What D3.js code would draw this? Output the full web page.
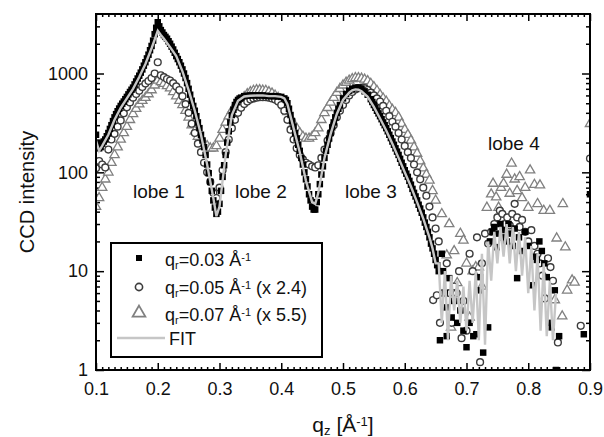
<!DOCTYPE html>
<html>
<head>
<meta charset="utf-8">
<script src="https://cdn.jsdelivr.net/npm/d3@7"></script>
<style>
  body { margin: 0; background: #fff; }
  text { font-family: "Liberation Sans", Arial, sans-serif; fill: #111; }
</style>
</head>
<body>
<div id="container"></div>
<script>
//------------------DATA------------------//
// q_r = 0.03 A^-1 (black squares) [qz, intensity]
const sq03 = [
  [0.100,240],[0.105,175],[0.110,195],[0.115,215],[0.120,250],[0.125,300],[0.130,360],[0.135,415],
  [0.140,470],[0.145,520],[0.150,580],[0.155,650],[0.160,720],[0.165,830],[0.170,950],[0.175,1100],
  [0.180,1300],[0.185,1550],[0.190,1900],[0.195,2500],[0.200,3300],[0.205,2750],[0.210,2450],[0.215,2250],
  [0.220,2000],[0.225,1750],[0.230,1500],[0.235,1300],[0.240,1100],[0.245,900],[0.250,700],[0.255,530],
  [0.260,420],[0.265,320],[0.270,240],[0.275,180],[0.280,120],[0.285,80],[0.290,52],[0.295,38],
  [0.300,48],[0.305,90],[0.310,150],[0.315,260],[0.320,380],[0.325,480],[0.330,540],[0.335,570],
  [0.340,590],[0.345,595],[0.350,600],[0.355,600],[0.360,600],[0.365,600],[0.370,600],[0.375,595],
  [0.380,590],[0.385,590],[0.390,590],[0.395,585],[0.400,580],[0.405,560],[0.410,500],[0.415,380],
  [0.420,290],[0.425,220],[0.430,165],[0.435,120],[0.440,85],[0.445,60],[0.450,45],[0.455,42],
  [0.460,60],[0.465,95],[0.470,140],[0.475,190],[0.480,250],[0.485,320],[0.490,400],[0.495,480],
  [0.500,560],[0.505,620],[0.510,670],[0.515,700],[0.520,720],[0.525,720],[0.530,700],[0.535,660],
  [0.540,610],[0.545,550],[0.550,480],[0.555,420],[0.560,370],[0.565,320],[0.570,280],[0.575,240],
  [0.580,205],[0.585,175],[0.590,150],[0.595,125],[0.600,105],[0.605,90],[0.610,75],[0.615,62],
  [0.620,52],[0.625,43],[0.630,35],[0.635,28],[0.640,22],[0.645,17],[0.650,13],[0.655,10],
  // finer sampling between the points above
  [0.1025,200],[0.1075,180],[0.1125,205],[0.1175,232],[0.1225,275],[0.1275,330],[0.1325,388],[0.1375,442],
  [0.1425,495],[0.1475,550],[0.1525,615],[0.1575,685],[0.1625,775],[0.1675,890],[0.1725,1020],[0.1775,1200],
  [0.1825,1420],[0.1875,1720],[0.1925,2150],[0.1975,2900],[0.2025,3000],
  [0.2075,2600],[0.2125,2350],[0.2175,2120],[0.2225,1870],[0.2275,1620],[0.2325,1400],[0.2375,1200],[0.2425,1000],
  [0.2475,800],[0.2525,610],[0.2575,470],[0.2625,370],[0.2675,280],[0.2725,210],[0.2775,150],[0.2825,98],
  [0.2875,65],[0.2925,44],[0.2975,40],[0.3025,65],[0.3075,118],[0.3125,200],[0.3175,320],[0.3225,430],
  [0.3275,515],[0.3325,558],
  [0.4075,540],[0.4125,440],[0.4175,330],[0.4225,250],[0.4275,190],[0.4325,140],[0.4375,100],[0.4425,72],
  [0.4475,52],[0.4525,42],[0.4575,50],[0.4625,76],[0.4675,115],[0.4725,165],[0.4775,220],[0.4825,285],
  [0.4875,360],[0.4925,440],
  [0.5475,515],[0.5525,450],[0.5575,395],[0.5625,345],[0.5675,300],[0.5725,260],[0.5775,222],[0.5825,190],
  [0.5875,162],[0.5925,137],[0.5975,115],[0.6025,97],[0.6075,82],[0.6125,68],[0.6175,57],[0.6225,47],
  [0.6275,39],[0.6325,31],[0.6375,25],[0.6425,19],[0.6475,15],[0.6525,11.5],
  // lobe 4 scatter
  [0.657,2],[0.660,15],[0.662,10],[0.665,6],[0.667,4.3],[0.668,2.2],[0.672,8.5],[0.676,3.4],
  [0.680,5],[0.685,3],[0.690,4],[0.695,2.5],[0.700,1.7],[0.705,3],[0.711,2.2],[0.716,2.3],
  [0.720,6.4],[0.722,8.7],[0.727,1.5],[0.735,2.7],[0.738,20],[0.742,25],[0.745,28],[0.749,17.5],
  [0.752,24],[0.755,30],[0.758,22],[0.762,26],[0.765,20],[0.768,30],[0.772,24],[0.775,18],
  [0.778,27],[0.782,8.5],[0.785,22],[0.790,16],[0.795,25],[0.800,18],[0.806,7.2],[0.810,14],
  [0.814,13],[0.818,20],[0.822,16],[0.826,12],[0.830,8.7],[0.834,3],[0.838,2.7],[0.843,6.4],
  [0.845,1],[0.850,2.2],[0.890,2.3],[0.900,60]
];

// q_r = 0.05 A^-1 (x 2.4) (open circles)
const ci05 = [
  [0.100,110],[0.105,130],[0.110,120],[0.115,112],[0.120,170],[0.125,215],[0.130,245],[0.135,290],
  [0.140,335],[0.145,395],[0.150,455],[0.155,510],[0.160,570],[0.165,620],[0.170,670],[0.175,730],
  [0.180,790],[0.185,840],[0.190,900],[0.195,1000],[0.200,1300],[0.205,960],[0.210,920],[0.215,880],
  [0.220,850],[0.225,800],[0.230,740],[0.235,680],[0.240,590],[0.245,490],[0.250,400],[0.255,310],
  [0.260,250],[0.265,195],[0.270,160],[0.275,125],[0.280,100],[0.285,80],[0.290,62],[0.295,55],
  [0.300,70],[0.305,105],[0.310,160],[0.315,215],[0.320,280],[0.325,340],[0.330,400],[0.335,450],
  [0.340,490],[0.345,520],[0.350,545],[0.355,560],[0.360,570],[0.365,575],[0.370,575],[0.375,575],
  [0.380,570],[0.385,560],[0.390,545],[0.395,520],[0.400,480],[0.405,420],[0.410,340],[0.415,270],
  [0.420,215],[0.425,175],[0.430,150],[0.435,135],[0.440,125],[0.445,120],[0.450,115],[0.455,112],
  [0.460,118],[0.465,140],[0.470,170],[0.475,210],[0.480,250],[0.485,300],[0.490,360],[0.495,420],
  [0.500,480],[0.505,540],[0.510,600],[0.515,650],[0.520,690],[0.525,710],[0.530,720],[0.535,710],
  [0.540,680],[0.545,640],[0.550,600],[0.555,560],[0.560,520],[0.565,470],[0.570,420],[0.575,370],
  [0.580,325],[0.585,290],[0.590,250],[0.595,215],[0.600,185],[0.605,160],[0.610,140],[0.615,120],
  [0.620,100],[0.625,85],[0.630,70],[0.635,58],[0.640,45],[0.645,35],[0.650,27],[0.655,20],
  [0.646,5.1],[0.652,5.7],[0.657,3],[0.662,6],[0.668,12],[0.672,6],[0.676,3],[0.680,7],
  [0.684,6],[0.688,10],[0.692,2.1],[0.695,5],[0.700,2.5],[0.705,15],[0.710,10],[0.717,22],
  [0.722,1.2],[0.725,12],[0.730,24],[0.735,19],[0.740,25],[0.745,30],[0.750,35],[0.754,41],
  [0.758,38],[0.762,30],[0.766,35],[0.770,29],[0.774,38],[0.778,48],[0.782,35],[0.786,28],
  [0.790,33],[0.795,25],[0.800,20],[0.805,26],[0.810,18],[0.815,15],[0.819,12],[0.823,9],
  [0.827,5.3],[0.832,13.5],[0.836,11],[0.840,8],[0.848,1.9],[0.885,2.8],[0.900,138]
];

// q_r = 0.07 A^-1 (x 5.5) (open triangles)
const tr07 = [
  [0.100,45],[0.105,55],[0.110,70],[0.115,85],[0.120,100],[0.125,125],[0.130,150],[0.135,180],
  [0.140,215],[0.145,250],[0.150,290],[0.155,340],[0.160,390],[0.165,440],[0.170,490],[0.175,530],
  [0.180,570],[0.185,620],[0.190,680],[0.195,760],[0.200,850],[0.205,820],[0.210,790],[0.215,750],
  [0.220,710],[0.225,650],[0.230,590],[0.235,530],[0.240,480],[0.245,420],[0.250,360],[0.255,300],
  [0.260,260],[0.265,230],[0.270,210],[0.275,195],[0.280,185],[0.285,175],[0.290,175],[0.295,185],
  [0.300,220],[0.305,270],[0.310,320],[0.315,370],[0.320,420],[0.325,460],[0.330,500],[0.335,540],
  [0.340,580],[0.345,620],[0.350,650],[0.355,670],[0.360,680],[0.365,680],[0.370,675],[0.375,670],
  [0.380,650],[0.385,630],[0.390,600],[0.395,570],[0.400,530],[0.405,470],[0.410,410],[0.415,360],
  [0.420,310],[0.425,280],[0.430,250],[0.435,230],[0.440,220],[0.445,220],[0.450,230],[0.455,250],
  [0.460,280],[0.465,340],[0.470,400],[0.475,450],[0.480,510],[0.485,570],[0.490,640],[0.495,700],
  [0.500,760],[0.505,810],[0.510,850],[0.515,880],[0.520,900],[0.525,900],[0.530,890],[0.535,870],
  [0.540,840],[0.545,790],[0.550,730],[0.555,670],[0.560,610],[0.565,560],[0.570,520],[0.575,470],
  [0.580,430],[0.585,400],[0.590,360],[0.595,310],[0.600,270],[0.605,240],[0.610,210],[0.615,180],
  [0.620,155],[0.625,130],[0.630,110],[0.635,95],[0.640,83],[0.645,65],[0.650,52],
  [0.660,38],[0.668,14.5],[0.672,30],[0.675,2.7],[0.680,16],[0.685,7.6],[0.690,24],[0.695,20.5],
  [0.700,12],[0.705,3.4],[0.710,10],[0.715,11],[0.720,11],[0.725,7],[0.733,44],[0.740,60],
  [0.743,77],[0.748,56],[0.752,44],[0.756,70],[0.760,77],[0.765,95],[0.770,61],[0.773,123],
  [0.778,85],[0.782,65],[0.786,90],[0.790,55],[0.795,70],[0.800,44],[0.803,105],[0.810,75],
  [0.815,48],[0.819,74],[0.825,41],[0.835,41],[0.843,5.1],[0.846,21.5],[0.855,3.5],[0.856,48],
  [0.860,17.5],[0.863,6.4],[0.871,8.1],[0.875,7.7],[0.900,310]
];

// fit curve
const fit = [
  [0.100,210],[0.105,165],[0.110,185],[0.120,240],[0.130,340],[0.140,450],[0.150,560],[0.160,700],
  [0.170,920],[0.180,1250],[0.190,1800],[0.195,2200],[0.200,2700],[0.205,2450],[0.210,2250],[0.220,1850],
  [0.230,1500],[0.240,1050],[0.250,680],[0.260,420],[0.270,240],[0.280,120],[0.290,55],[0.295,36],
  [0.300,45],[0.310,150],[0.320,380],[0.330,530],[0.340,585],[0.350,595],[0.360,600],[0.370,600],
  [0.380,590],[0.390,590],[0.400,580],[0.405,560],[0.410,490],[0.420,280],[0.430,160],[0.440,82],
  [0.450,50],[0.455,48],[0.460,62],[0.470,140],[0.480,245],[0.490,390],[0.500,540],[0.510,640],
  [0.515,675],[0.520,690],[0.525,685],[0.530,660],[0.540,580],[0.550,460],[0.560,350],[0.570,265],
  [0.580,195],[0.590,140],[0.600,100],[0.610,72],[0.620,50],[0.630,34],[0.640,22],[0.645,17],
  [0.650,12],[0.655,12],[0.660,3],[0.665,10],[0.670,2],[0.675,9],[0.680,4],[0.685,8],
  [0.690,3],[0.695,7],[0.700,2.5],[0.705,8],[0.710,3],[0.715,10],[0.720,2],[0.725,15],
  [0.730,1.8],[0.735,20],[0.740,8],[0.745,25],[0.750,12],[0.755,28],[0.760,14],[0.765,30],
  [0.770,12],[0.775,28],[0.780,10],[0.785,25],[0.790,9],[0.795,22],[0.800,6],[0.805,18],
  [0.810,4],[0.815,15],[0.820,2.5],[0.825,12],[0.830,2.2],[0.835,8],[0.840,2],[0.845,6]
];

const xMajor = [0.1, 0.2, 0.3, 0.4, 0.5, 0.6, 0.7, 0.8, 0.9];
const yMajor = [1, 10, 100, 1000];
const lobes = [["lobe 1", 133, 198], ["lobe 2", 235, 198], ["lobe 3", 345, 198], ["lobe 4", 488, 150]];

//------------------SVG------------------//
const width = 604, height = 437;
const mLeft = 96, mRight = 590, mTop = 14, mBottom = 370;

const svg = d3.select("#container").append("svg")
  .attr("width", width).attr("height", height);

const x = d3.scaleLinear().domain([0.1, 0.9]).range([mLeft, mRight]);
const y = d3.scaleLog().domain([1, 4000]).range([mBottom, mTop]);

const xMinor = d3.range(10, 91).map(d => d / 100).filter(d => !xMajor.includes(d));
const yMinor = [];
yMajor.forEach(p => { for (let k = 2; k <= 9; k++) if (p * k < 4000) yMinor.push(p * k); });

svg.append("defs").append("clipPath").attr("id", "plot")
  .append("rect").attr("x", mLeft).attr("y", mTop)
  .attr("width", mRight - mLeft).attr("height", mBottom - mTop);

//------------------AXES------------------//
function tickStyle(g) {
  g.select(".domain").remove();
  g.selectAll("line").attr("stroke", "#000").attr("stroke-width", 1.5);
  g.selectAll("text").style("font-size", "18px").attr("fill", "#111");
}

svg.append("g").attr("transform", "translate(0," + mBottom + ")")
  .call(d3.axisBottom(x).tickValues(xMinor).tickSize(-3).tickFormat("")).call(tickStyle);
svg.append("g").attr("transform", "translate(0," + mBottom + ")")
  .call(d3.axisBottom(x).tickValues(xMajor).tickSize(-7).tickPadding(12).tickFormat(d3.format(".1f")))
  .call(tickStyle);
svg.append("g").attr("transform", "translate(0," + mTop + ")")
  .call(d3.axisTop(x).tickValues(xMinor).tickSize(-3).tickFormat("")).call(tickStyle);
svg.append("g").attr("transform", "translate(0," + mTop + ")")
  .call(d3.axisTop(x).tickValues(xMajor).tickSize(-7).tickFormat("")).call(tickStyle);

svg.append("g").attr("transform", "translate(" + mLeft + ",0)")
  .call(d3.axisLeft(y).tickValues(yMinor).tickSize(-4).tickFormat("")).call(tickStyle);
svg.append("g").attr("transform", "translate(" + mLeft + ",0)")
  .call(d3.axisLeft(y).tickValues(yMajor).tickSize(-8).tickPadding(8).tickFormat(d3.format("d")))
  .call(tickStyle);
svg.append("g").attr("transform", "translate(" + mRight + ",0)")
  .call(d3.axisRight(y).tickValues(yMinor).tickSize(-4).tickFormat("")).call(tickStyle);
svg.append("g").attr("transform", "translate(" + mRight + ",0)")
  .call(d3.axisRight(y).tickValues(yMajor).tickSize(-8).tickFormat("")).call(tickStyle);

//------------------DONNEES------------------//
const plot = svg.append("g").attr("clip-path", "url(#plot)");

const tri = d3.symbol().type(d3.symbolTriangle).size(38);
const sqr = d3.symbol().type(d3.symbolSquare).size(42);

plot.selectAll(".tri").data(tr07).enter().append("path")
  .attr("d", tri)
  .attr("transform", d => "translate(" + x(d[0]) + "," + y(d[1]) + ")")
  .attr("fill", "#fff").attr("stroke", "#808080").attr("stroke-width", 1.3);

plot.selectAll(".circ").data(ci05).enter().append("circle")
  .attr("cx", d => x(d[0])).attr("cy", d => y(d[1])).attr("r", 3.4)
  .attr("fill", "#fff").attr("stroke", "#3c3c3c").attr("stroke-width", 1.4);

plot.selectAll(".sq").data(sq03).enter().append("path")
  .attr("d", sqr)
  .attr("transform", d => "translate(" + x(d[0]) + "," + y(d[1]) + ")")
  .attr("fill", "#000");

const line = d3.line().x(d => x(d[0])).y(d => y(d[1]));
plot.append("path").datum(fit)
  .attr("d", line).attr("fill", "none")
  .attr("stroke", "#c6c6c6").attr("stroke-width", 2.4);

// frame
svg.append("rect").attr("x", mLeft).attr("y", mTop)
  .attr("width", mRight - mLeft).attr("height", mBottom - mTop)
  .attr("fill", "none").attr("stroke", "#000").attr("stroke-width", 2);

//------------------LABELS------------------//
svg.selectAll(".lobe").data(lobes).enter().append("text")
  .attr("x", d => d[1]).attr("y", d => d[2])
  .style("font-size", "19px").text(d => d[0]);

svg.append("text")
  .attr("transform", "translate(34,192) rotate(-90)")
  .attr("text-anchor", "middle").style("font-size", "20px")
  .text("CCD intensity");

const xl = svg.append("text").attr("x", 343).attr("y", 432)
  .attr("text-anchor", "middle").style("font-size", "21px");
xl.append("tspan").text("q");
xl.append("tspan").attr("baseline-shift", "-25%").style("font-size", "13px").text("z");
xl.append("tspan").text(" [Å");
xl.append("tspan").attr("baseline-shift", "45%").style("font-size", "13px").text("-1");
xl.append("tspan").text("]");

//------------------LEGENDE------------------//
const legend = svg.append("g");
legend.append("rect").attr("x", 111).attr("y", 243).attr("width", 211).attr("height", 114)
  .attr("fill", "#fff").attr("stroke", "#000").attr("stroke-width", 2);

const entries = [["0.03", ""], ["0.05", " (x 2.4)"], ["0.07", " (x 5.5)"]];
entries.forEach(function(e, i) {
  const t = legend.append("text").attr("x", 165).attr("y", 266 + i * 27.5).style("font-size", "18px");
  t.append("tspan").text("q");
  t.append("tspan").attr("baseline-shift", "-25%").style("font-size", "11px").text("r");
  t.append("tspan").text("=" + e[0] + " Å");
  t.append("tspan").attr("baseline-shift", "45%").style("font-size", "11px").text("-1");
  t.append("tspan").text(e[1]);
});
legend.append("path").attr("d", d3.symbol().type(d3.symbolSquare).size(36))
  .attr("transform", "translate(139,258)").attr("fill", "#000");
legend.append("circle").attr("cx", 139).attr("cy", 287).attr("r", 3.6)
  .attr("fill", "#fff").attr("stroke", "#3c3c3c").attr("stroke-width", 1.6);
legend.append("path").attr("d", d3.symbol().type(d3.symbolTriangle).size(70))
  .attr("transform", "translate(139,313)")
  .attr("fill", "#fff").attr("stroke", "#808080").attr("stroke-width", 1.8);
legend.append("line").attr("x1", 117).attr("x2", 165).attr("y1", 338).attr("y2", 338)
  .attr("stroke", "#c6c6c6").attr("stroke-width", 2.4);
legend.append("text").attr("x", 169).attr("y", 345).style("font-size", "18px").text("FIT");
</script>
</body>
</html>
